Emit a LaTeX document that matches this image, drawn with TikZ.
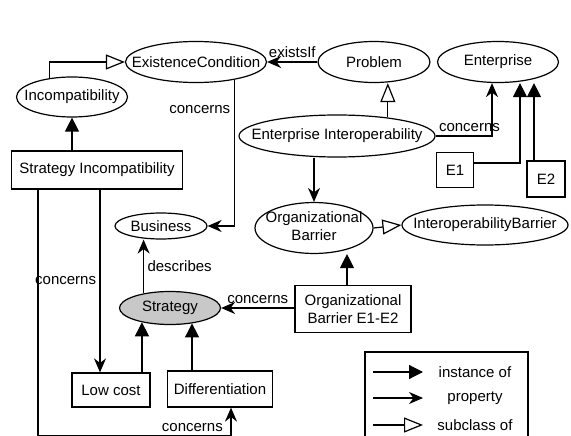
\documentclass[tikz,border=0pt]{standalone}
\usepackage{fontspec}
\setmainfont{Liberation Sans}
\usetikzlibrary{shapes.geometric,arrows.meta}
\newcommand{\ctext}[1]{\makebox[0pt]{#1}}% text of a class, the ellipse keeps its own size
\begin{document}
\begin{tikzpicture}[x=1pt,y=-1pt,line width=1.2pt,
    every node/.style={font=\fontsize{15}{18}\selectfont},
    concept/.style={ellipse,draw,inner sep=0pt},
    individual/.style={rectangle,draw,inner sep=0pt,align=center},
    instarrow/.style={-{Triangle[length=14pt,width=14pt]}},
    proparrow/.style={-{Stealth[length=14pt,width=12pt,inset=4.5pt]}},
    subarrow/.style={-{Triangle[open,length=19pt,width=15pt,fill=white]}}]
    \useasboundingbox (0,0) rectangle (571,436);
    % classes
    \node [concept,minimum width=141,minimum height=41] (ExistenceCondition) at (196,62) {\ctext{ExistenceCondition}};
    \node [concept,minimum width=111,minimum height=40] (Incompatibility) at (72,97) {\ctext{Incompatibility}};
    \node [concept,minimum width=112,minimum height=41] (Problem) at (374,62) {\ctext{Problem}};
    \node [concept,minimum width=121,minimum height=41] (Enterprise) at (498,62) {\ctext{Enterprise}};
    \node [concept,minimum width=196,minimum height=42] (EnterpriseInterop) at (337,136) {\ctext{Enterprise Interoperability}};
    \node [concept,minimum width=118,minimum height=47] (OrgBarrier) at (314,228) {\ctext{\begin{tabular}{@{}c@{}}Organizational\\Barrier\end{tabular}}};
    \node [concept,minimum width=166,minimum height=40] (InteropBarrier) at (485,225) {\ctext{InteroperabilityBarrier}};
    \node [concept,minimum width=92,minimum height=26] (Business) at (161,226) {\ctext{Business}};
    \node [concept,minimum width=101,minimum height=33,fill={rgb,255:red,200;green,200;blue,200}] (Strategy) at (170,308) {\ctext{Strategy}};
    % individuals
    \node [individual,minimum width=171,minimum height=38] (StrategyIncomp) at (97,170) {Strategy Incompatibility};
    \node [individual,minimum width=37,minimum height=35] (EOne) at (455,170) {E1};
    \node [individual,minimum width=38,minimum height=36] (ETwo) at (546,179) {E2};
    \node [individual,minimum width=116,minimum height=47] (OrgBarrierEE) at (353,309) {Organizational\\Barrier E1-E2};
    \node [individual,minimum width=78,minimum height=34] (LowCost) at (111,390) {Low cost};
    \node [individual,minimum width=105,minimum height=36] (Differentiation) at (220,389) {Differentiation};
    % subclass of
    \draw [subarrow] (Incompatibility.140) |- (ExistenceCondition.west);
    \draw [subarrow] (EnterpriseInterop.20) -- (EnterpriseInterop.20 |- Problem.south);
    \draw [subarrow] (OrgBarrier.east) -- (InteropBarrier.west);
    % instance of
    \draw [instarrow] (StrategyIncomp.north -| Incompatibility.south) -- (Incompatibility.south);
    \draw [instarrow] (EOne.20) -| ([xshift=22pt]Enterprise.south);
    \draw [instarrow] ([xshift=-12pt]ETwo.north) -- ([xshift=-12pt]ETwo.north |- Enterprise.south);
    \draw [instarrow] ([xshift=-6pt]OrgBarrierEE.north) -- ([xshift=-6pt]OrgBarrierEE.north |- OrgBarrier.south);
    \draw [instarrow] (Strategy.207 |- LowCost.north) -- (Strategy.207);
    \draw [instarrow] (Strategy.325 |- Differentiation.north) -- (Strategy.325);
    % properties
    \draw [proparrow] (Problem.west) -- node [above] {existsIf} (ExistenceCondition.east);
    \draw [proparrow] (ExistenceCondition.-25) |- node [pos=0.1,left] {concerns} (Business.east);
    \draw [proparrow] (EnterpriseInterop.east) -| node [pos=0.3,above] {concerns} ([xshift=-6pt]Enterprise.south);
    \draw [proparrow] (EnterpriseInterop.south -| OrgBarrier.north) -- (OrgBarrier.north);
    \draw [proparrow] (OrgBarrierEE.west |- Strategy.east) -- node [above] {concerns} (Strategy.east);
    \draw [proparrow] (Strategy.151) -- node [right] {describes} (Strategy.151 |- Business.south);
    \draw [proparrow] ([xshift=3pt]StrategyIncomp.south) -- node [left] {concerns} ([xshift=3pt]StrategyIncomp.south |- LowCost.north);
    \draw [proparrow] ([xshift=27pt]StrategyIncomp.south west) -- ++(0,246) -| node [pos=0.4,above] {concerns} ([xshift=11pt]Differentiation.south);
    % legend
    \draw (365,352) rectangle (528,445);
    \coordinate (LegInstA) at (373,372);
    \coordinate (LegInstB) at (423,372);
    \coordinate (LegPropA) at (373,398);
    \coordinate (LegPropB) at (423,398);
    \coordinate (LegSubA) at (373,425);
    \coordinate (LegSubB) at (423,425);
    \draw [instarrow] (LegInstA) -- (LegInstB);
    \draw [proparrow] (LegPropA) -- (LegPropB);
    \draw [subarrow] (LegSubA) -- (LegSubB);
    \node (LegInstText) at (475,372) {instance of};
    \node (LegPropText) at (475,398) {property};
    \node (LegSubText) at (475,425) {subclass of};
\end{tikzpicture}
\end{document}
